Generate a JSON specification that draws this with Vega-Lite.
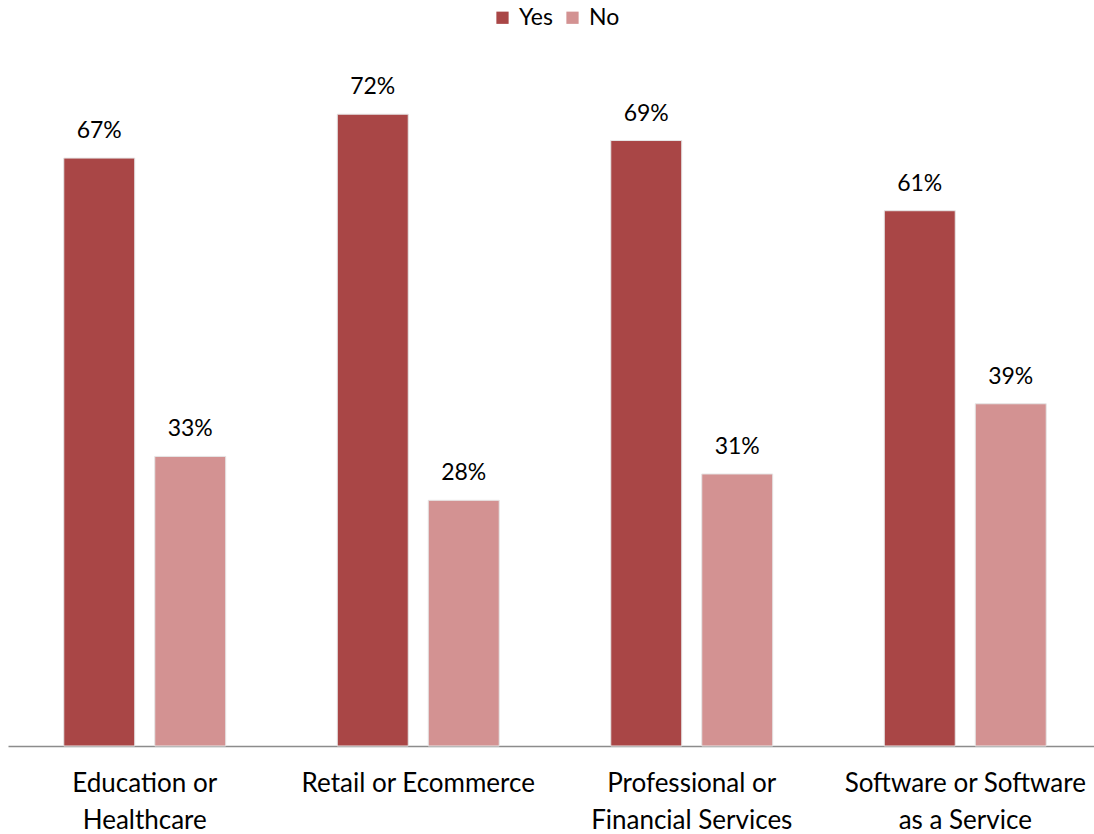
{
  "$schema": "https://vega.github.io/schema/vega-lite/v6.json",
  "width": 1086,
  "height": 702,
  "autosize": {"type": "none"},
  "padding": {"left": 8, "top": 44, "right": 0, "bottom": 88},
  "background": "white",
  "config": {"view": {"stroke": null}, "font": "Lato"},
  "data": {
    "values": [
      {"sector": "Education or|Healthcare", "answer": "Yes", "value": 0.67},
      {"sector": "Education or|Healthcare", "answer": "No", "value": 0.33},
      {"sector": "Retail or Ecommerce", "answer": "Yes", "value": 0.72},
      {"sector": "Retail or Ecommerce", "answer": "No", "value": 0.28},
      {"sector": "Professional or|Financial Services", "answer": "Yes", "value": 0.69},
      {"sector": "Professional or|Financial Services", "answer": "No", "value": 0.31},
      {"sector": "Software or Software|as a Service", "answer": "Yes", "value": 0.61},
      {"sector": "Software or Software|as a Service", "answer": "No", "value": 0.39}
    ]
  },
  "encoding": {
    "x": {
      "field": "sector", "type": "nominal", "sort": null,
      "scale": {"paddingInner": 0, "paddingOuter": 0, "range": [0, 1094]},
      "axis": {
        "title": null, "labelAngle": 0, "ticks": false, "labelLimit": 0,
        "domainColor": "#8c8c8c", "domainWidth": 1.5,
        "labelFontSize": 26, "labelColor": "#000", "labelPadding": 24,
        "labelLineHeight": 37, "labelExpr": "split(datum.value, '|')"
      }
    },
    "xOffset": {
      "field": "answer", "type": "nominal", "sort": ["Yes", "No"],
      "scale": {"paddingInner": 0.22, "paddingOuter": 0.613}
    },
    "y": {
      "field": "value", "type": "quantitative",
      "scale": {"domain": [0, 0.8]}, "axis": null
    }
  },
  "layer": [
    {
      "mark": {"type": "bar", "stroke": "#e6e6e6", "strokeWidth": 1},
      "encoding": {
        "color": {
          "field": "answer", "type": "nominal", "sort": ["Yes", "No"],
          "scale": {"domain": ["Yes", "No"], "range": ["#A94646", "#D39292"]},
          "legend": {
            "title": null, "orient": "none", "direction": "horizontal",
            "legendX": 483, "legendY": -38,
            "symbolType": "square", "symbolSize": 150, "symbolStrokeWidth": 0,
            "labelFontSize": 23, "labelColor": "#000", "labelOffset": 5, "columnPadding": 8
          }
        }
      }
    },
    {
      "mark": {"type": "text", "baseline": "bottom", "dy": -15, "fontSize": 23, "color": "#000"},
      "encoding": {
        "text": {"field": "value", "type": "quantitative", "format": ".0%"},
        "detail": {"field": "answer"}
      }
    }
  ]
}
